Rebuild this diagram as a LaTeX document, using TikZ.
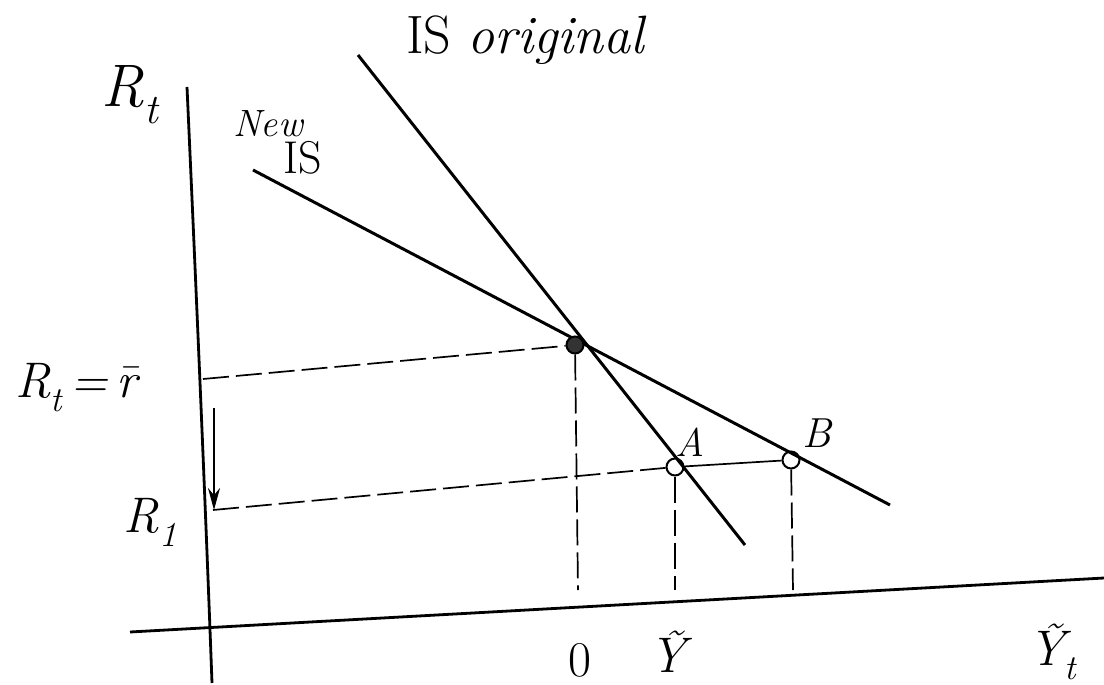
\documentclass[tikz,border=0pt]{standalone}
\usetikzlibrary{arrows.meta}
\newcommand\lowsub[1]{\raisebox{-0.28em}{\scalebox{0.7}{#1}}}
\begin{document}
\begin{tikzpicture}[x=1pt,y=-1pt,
  axisline/.style={line width=2.8pt},
  isline/.style={line width=3pt},
  guide/.style={line width=1.7pt,dash pattern=on 26pt off 7pt},
  pt/.style={circle,draw,line width=2pt,minimum size=17pt,inner sep=0pt},
  lbl/.style={font=\fontsize{50}{60}\selectfont,inner sep=1pt},
  slbl/.style={font=\fontsize{38}{46}\selectfont,inner sep=1pt}]
\useasboundingbox (0,0) rectangle (1104,685);
% axes
\coordinate (vtop) at (187,87);
\coordinate (vbot) at (212,683);
\draw[axisline] (vtop) .. controls (198,330) and (206,520) .. (vbot);
\coordinate (hleft) at (130,632);
\coordinate (hright) at (1104,578);
\draw[axisline] (hleft) -- (hright);
% IS lines
\coordinate (iso1) at (358,55);
\coordinate (iso2) at (745,545);
\coordinate (new1) at (253,170);
\coordinate (new2) at (890,505);
\draw[isline] (iso1) -- (iso2);
\draw[isline] (new1) -- (new2);
% points
\node[pt,fill=black!80] (E) at (575,345) {};
\node[pt] (A) at (675,467) {};
\node[pt] (B) at (791,460) {};
% guides
\coordinate (rbar) at (203,379);
\coordinate (r1) at (213,510);
\coordinate (e0) at (578,590);
\coordinate (a0) at (675,590);
\coordinate (b0) at (793,590);
\draw[guide] (rbar) -- (E);
\draw[guide] (r1) -- (A);
\draw[line width=1.7pt] (A) -- (B);
\draw[guide] (E) -- (e0);
\draw[guide] (A) -- (a0);
\draw[guide] (B) -- (b0);
% shift arrow
\coordinate (arrtop) at (214,408);
\coordinate (arrbot) at (214,510);
\draw[line width=2pt,-{Stealth[length=22pt,width=12pt]}] (arrtop) -- (arrbot);
% labels
\node[lbl,font=\fontsize{60}{70}\selectfont\itshape] (lRt) at (130,95) {R\lowsub{t}};
\node[slbl,font=\fontsize{38}{46}\selectfont\itshape] (lNew) at (268,124) {New};
\node[lbl,font=\fontsize{46}{54}\selectfont] (lIS) at (303,158) {IS};
\node[lbl,font=\fontsize{54}{64}\selectfont] (lISo) at (525,40) {IS \itshape original};
\node[lbl,font=\fontsize{50}{60}\selectfont\itshape] (lRbar) at (76,388) {R\lowsub{t}\,=\,\={r}};
\node[lbl,font=\fontsize{50}{60}\selectfont\itshape] (lR1) at (150,522) {R\lowsub{1}};
\node[slbl,font=\fontsize{40}{48}\selectfont\itshape] (lA) at (690,442) {A};
\node[slbl,font=\fontsize{42}{50}\selectfont\itshape] (lB) at (817,433) {B};
\node[lbl] (l0) at (580,660) {0};
\node[lbl,font=\fontsize{50}{60}\selectfont\itshape] (lY) at (668,652) {\~{Y}};
\node[lbl,font=\fontsize{50}{60}\selectfont\itshape] (lYt) at (1052,652) {\~{Y}\lowsub{t}};
\end{tikzpicture}
\end{document}
